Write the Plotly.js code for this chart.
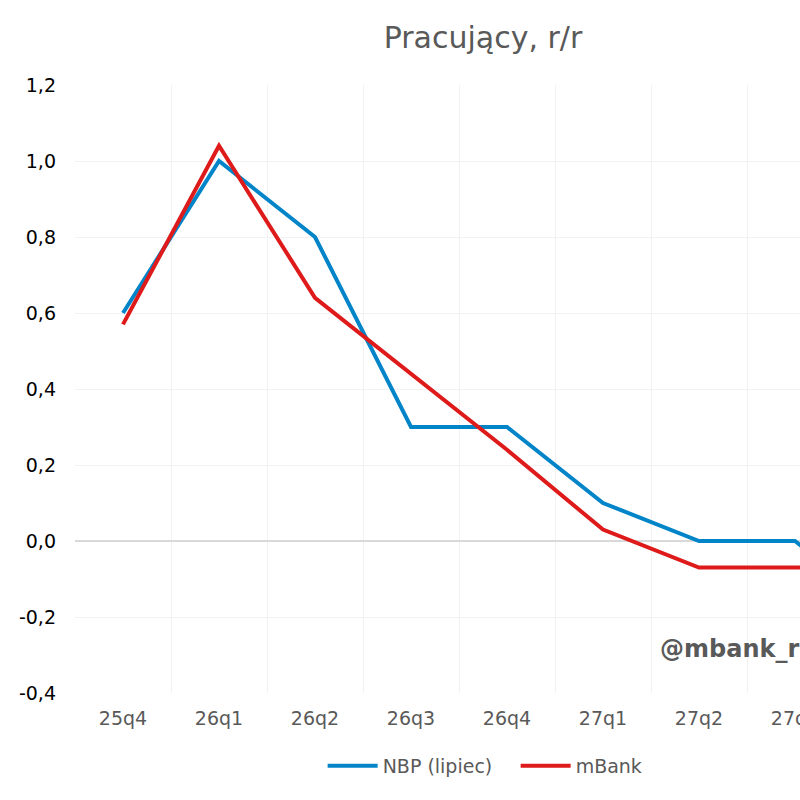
<!DOCTYPE html>
<html>
<head>
<meta charset="utf-8">
<script src="https://cdn.plot.ly/plotly-3.0.1.min.js"></script>
<style>
  html, body { margin: 0; padding: 0; overflow: hidden; background: #fff; }
  #chart { width: 966px; height: 800px; }
</style>
</head>
<body>
<div id="chart"></div>
<script>
// Quarterly forecasts of employment growth, y/y (%)
const quarters = ['25q4', '26q1', '26q2', '26q3', '26q4', '27q1', '27q2', '27q3', '28q1'];
const nbpJuly = [0.6, 1.0, 0.8, 0.3, 0.3, 0.1, 0.0, 0.0, -0.2];
const mbank = [0.57, 1.04, 0.64, 0.44, 0.24, 0.03, -0.07, -0.07, -0.07];
const seriesNames = ['NBP (lipiec)', 'mBank'];
const yTicks = [-0.4, -0.2, 0.0, 0.2, 0.4, 0.6, 0.8, 1.0, 1.2];
// Polish decimal comma, plain hyphen for negatives
const yTickText = yTicks.map(v => v.toFixed(1).replace('.', ','));

const fontFamily = 'Verdana, "DejaVu Sans", sans-serif';

const traces = [
  {
    x: quarters, y: nbpJuly, name: seriesNames[0], type: 'scatter', mode: 'lines',
    line: { color: '#0284C8', width: 4 }
  },
  {
    x: quarters, y: mbank, name: seriesNames[1], type: 'scatter', mode: 'lines',
    line: { color: '#DE1A1A', width: 4 }
  }
];

const layout = {
  width: 966,
  height: 800,
  margin: { l: 75, r: 27, t: 85, b: 107 },
  paper_bgcolor: '#ffffff',
  plot_bgcolor: '#ffffff',
  font: { family: fontFamily, color: '#595959', size: 19 },
  title: {
    text: 'Pracujący, r/r',
    font: { family: fontFamily, size: 30, color: '#595959' },
    x: 0.5, xanchor: 'center', y: 0.953, yanchor: 'middle'
  },
  xaxis: {
    type: 'category',
    range: [-0.5, quarters.length - 0.5],
    tickson: 'boundaries',
    ticks: '',
    showgrid: true,
    gridcolor: '#f2f2f2',
    gridwidth: 1,
    zeroline: false,
    showline: false,
    tickfont: { family: fontFamily, size: 19, color: '#595959' },
    ticklabelstandoff: 12,
    fixedrange: true
  },
  yaxis: {
    range: [-0.4, 1.2],
    tickvals: yTicks,
    ticktext: yTickText,
    showgrid: true,
    gridcolor: '#f2f2f2',
    gridwidth: 1,
    zeroline: true,
    zerolinecolor: '#d9d9d9',
    zerolinewidth: 1.5,
    showline: false,
    ticks: '',
    tickfont: { family: fontFamily, size: 19, color: '#000000' },
    ticklabelstandoff: 18,
    fixedrange: true
  },
  showlegend: true,
  legend: {
    orientation: 'h',
    x: 0.510, xanchor: 'center',
    y: -0.12, yanchor: 'middle',
    font: { family: fontFamily, size: 19, color: '#595959' },
    itemwidth: 50,
    entrywidth: 128
  },
  annotations: [
    {
      text: '<b>@mbank_research</b>',
      xref: 'paper', yref: 'y',
      x: (658 - 75) / 864, y: -0.285,
      xanchor: 'left', yanchor: 'middle',
      showarrow: false,
      font: { family: fontFamily, size: 24, color: '#595959' }
    }
  ]
};

Plotly.newPlot('chart', traces, layout, { displayModeBar: false, staticPlot: true });
</script>
</body>
</html>
